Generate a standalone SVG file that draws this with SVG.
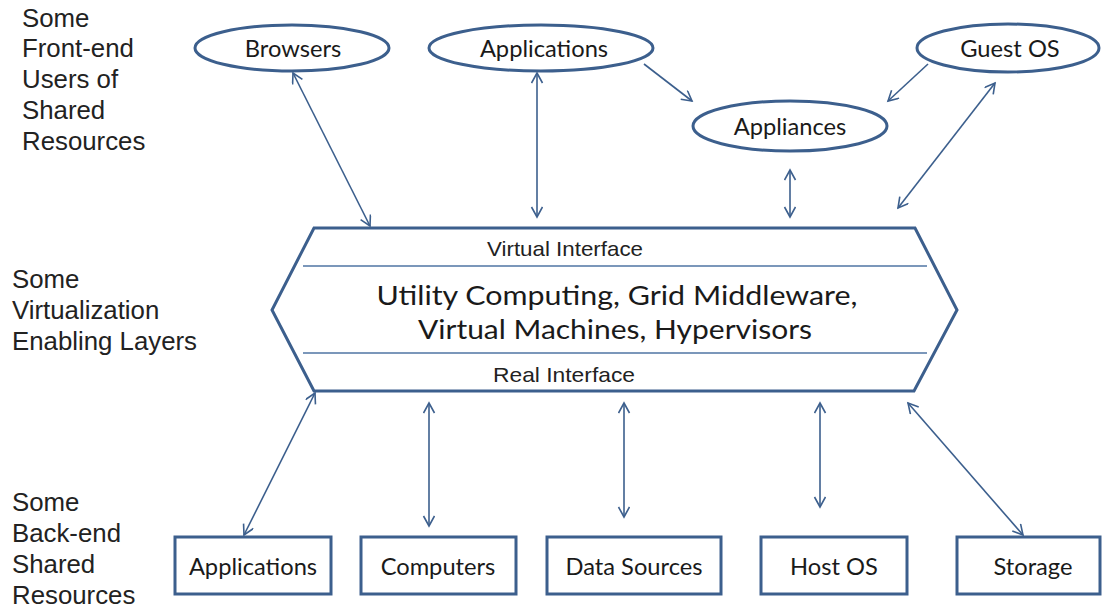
<svg xmlns="http://www.w3.org/2000/svg" width="1107" height="608" viewBox="0 0 1107 608">
  <style>
    .shape { fill: #ffffff; stroke: #3c5f8d; stroke-width: 3; }
    .divider { stroke: #4f74a3; stroke-width: 1.5; fill: none; }
    .link { stroke: #3c5f8d; stroke-width: 1.6; fill: none; }
    .label { font-family: Lato, "Open Sans", sans-serif; font-size: 23.7px; fill: #1a1a1a; text-anchor: middle; }
    .core { font-family: Lato, "Open Sans", sans-serif; font-size: 27.5px; fill: #1a1a1a; text-anchor: middle; }
    .iface { font-family: "Liberation Sans", Arial, sans-serif; font-size: 21px; fill: #222222; text-anchor: middle; }
    .side { font-family: "Liberation Sans", Arial, sans-serif; font-size: 25.8px; fill: #222222; }
  </style>
  <defs>
    <marker id="head" markerUnits="userSpaceOnUse" markerWidth="14" markerHeight="14" refX="11" refY="6" orient="auto-start-reverse">
      <path d="M1,0.5 L11,6 L1,11.5" fill="none" stroke="#3c5f8d" stroke-width="1.6"/>
    </marker>
  </defs>

  <rect width="1107" height="608" fill="#ffffff"/>

  <!-- side captions -->
  <g id="captions">
    <text class="side" x="22" y="27">Some</text>
    <text class="side" x="22" y="57">Front-end</text>
    <text class="side" x="22" y="88">Users of</text>
    <text class="side" x="22" y="119">Shared</text>
    <text class="side" x="22" y="150">Resources</text>
    <text class="side" x="12" y="288">Some</text>
    <text class="side" x="12" y="319">Virtualization</text>
    <text class="side" x="12" y="350">Enabling Layers</text>
    <text class="side" x="12" y="511">Some</text>
    <text class="side" x="12" y="542">Back-end</text>
    <text class="side" x="12" y="573">Shared</text>
    <text class="side" x="12" y="604">Resources</text>
  </g>

  <!-- connectors -->
  <g id="connectors">
    <line class="link" x1="293" y1="73" x2="370" y2="226" marker-start="url(#head)" marker-end="url(#head)"/>
    <line class="link" x1="537" y1="73" x2="537" y2="217" marker-start="url(#head)" marker-end="url(#head)"/>
    <line class="link" x1="644" y1="64" x2="692" y2="101" marker-end="url(#head)"/>
    <line class="link" x1="928" y1="64" x2="888" y2="101" marker-end="url(#head)"/>
    <line class="link" x1="790" y1="170" x2="790" y2="217" marker-start="url(#head)" marker-end="url(#head)"/>
    <line class="link" x1="995" y1="83" x2="898" y2="208" marker-start="url(#head)" marker-end="url(#head)"/>
    <line class="link" x1="244" y1="535" x2="315" y2="393" marker-start="url(#head)" marker-end="url(#head)"/>
    <line class="link" x1="429" y1="403" x2="429" y2="526" marker-start="url(#head)" marker-end="url(#head)"/>
    <line class="link" x1="624" y1="403" x2="624" y2="517" marker-start="url(#head)" marker-end="url(#head)"/>
    <line class="link" x1="820" y1="403" x2="820" y2="507" marker-start="url(#head)" marker-end="url(#head)"/>
    <line class="link" x1="908" y1="403" x2="1023" y2="535" marker-start="url(#head)" marker-end="url(#head)"/>
  </g>

  <!-- front-end users -->
  <g id="browsers">
    <ellipse class="shape" cx="292" cy="48" rx="97" ry="23"/>
    <text class="label" x="293" y="57">Browsers</text>
  </g>
  <g id="applications-front">
    <ellipse class="shape" cx="541" cy="48" rx="112" ry="23"/>
    <text class="label" x="544" y="57">Applications</text>
  </g>
  <g id="guest-os">
    <ellipse class="shape" cx="1008" cy="48" rx="91" ry="24"/>
    <text class="label" x="1010" y="57">Guest OS</text>
  </g>
  <g id="appliances">
    <ellipse class="shape" cx="790" cy="126" rx="97" ry="25"/>
    <text class="label" x="790" y="135">Appliances</text>
  </g>

  <!-- virtualization layer -->
  <g id="virtualization-layer">
    <polygon class="shape" points="314,228 915,228 957,310 914,391 314,391 272,310"/>
    <line class="divider" x1="303" y1="266" x2="927" y2="266"/>
    <line class="divider" x1="303" y1="353" x2="927" y2="353"/>
    <text class="iface" x="565" y="256" textLength="156" lengthAdjust="spacingAndGlyphs">Virtual Interface</text>
    <text class="core" x="617" y="305" textLength="481" lengthAdjust="spacingAndGlyphs">Utility Computing, Grid Middleware,</text>
    <text class="core" x="615" y="339" textLength="394" lengthAdjust="spacingAndGlyphs">Virtual Machines, Hypervisors</text>
    <text class="iface" x="564" y="382" textLength="142" lengthAdjust="spacingAndGlyphs">Real Interface</text>
  </g>

  <!-- back-end resources -->
  <g id="applications-back">
    <rect class="shape" x="175" y="537" width="156" height="57"/>
    <text class="label" x="253" y="575">Applications</text>
  </g>
  <g id="computers">
    <rect class="shape" x="361" y="537" width="155" height="57"/>
    <text class="label" x="438" y="575">Computers</text>
  </g>
  <g id="data-sources">
    <rect class="shape" x="547" y="537" width="174" height="57"/>
    <text class="label" x="634" y="575">Data Sources</text>
  </g>
  <g id="host-os">
    <rect class="shape" x="761" y="537" width="146" height="57"/>
    <text class="label" x="834" y="575">Host OS</text>
  </g>
  <g id="storage">
    <rect class="shape" x="957" y="537" width="143" height="57"/>
    <text class="label" x="1033" y="575">Storage</text>
  </g>
</svg>
